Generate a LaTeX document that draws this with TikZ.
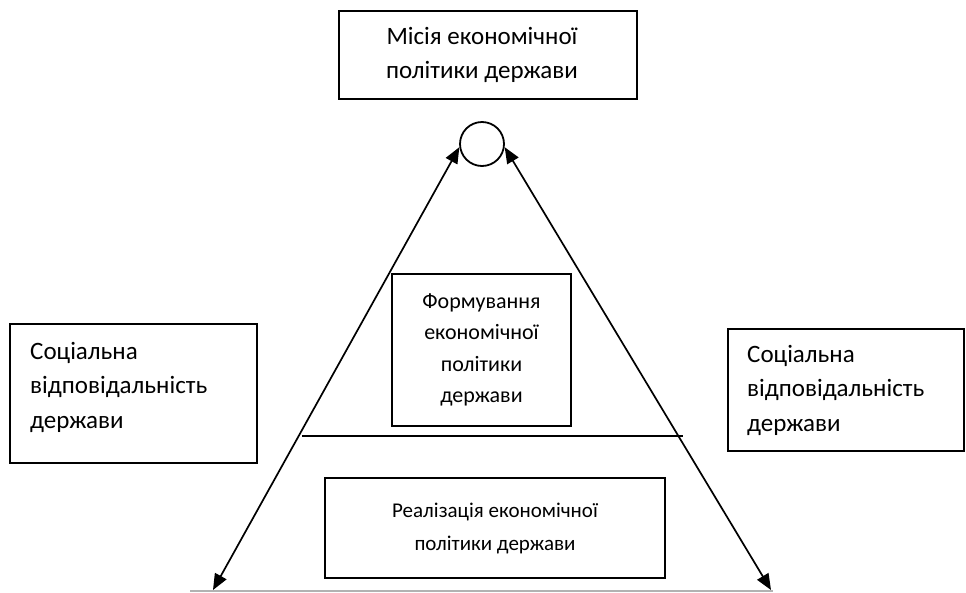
\documentclass[tikz,border=0pt]{standalone}
\usepackage{fontspec}
\setmainfont{Carlito}
\usetikzlibrary{arrows.meta}
\tikzset{
  boxs/.style={draw=black, line width=1.8pt, inner sep=0pt, align=center},
  txt/.style={inner sep=0pt, align=left},
  ctxt/.style={inner sep=0pt, align=center},
  big/.style={font=\fontsize{25}{34.5}\selectfont},
  mid/.style={font=\fontsize{22}{31.5}\selectfont},
  small/.style={font=\fontsize{21}{33}\selectfont},
  twoway/.style={line width=1.7pt, {Triangle[length=16pt,width=13pt]}-{Triangle[length=16pt,width=13pt]}},
  plainline/.style={line width=1.7pt}
}
\begin{document}
\begin{tikzpicture}[x=1pt,y=-1pt]
\useasboundingbox[fill=white] (0,0) rectangle (966,592);
% top mission box
\node[boxs, minimum width=298pt, minimum height=88pt] (mis) at (488,55) {};
\node[ctxt, big] (mistxt) at (482,55) {Місія економічної\\політики держави};
% circle
\node[draw=black, line width=1.8pt, circle, minimum size=44pt, inner sep=0pt] (c) at (482,144) {};
% side boxes
\node[boxs, minimum width=247pt, minimum height=139pt] (lbox) at (133.5,393.5) {};
\node[txt, big, anchor=west] (ltxt) at (30,387) {Соціальна\\відповідальність\\держави};
\node[boxs, minimum width=236pt, minimum height=122pt] (rbox) at (846,390) {};
\node[txt, big, anchor=west] (rtxt) at (747,390) {Соціальна\\відповідальність\\держави};
% middle box
\node[boxs, mid, minimum width=179pt, minimum height=152pt] (form) at (481.5,350) {Формування\\економічної\\політики\\держави};
% bottom box
\node[boxs, small, minimum width=340pt, minimum height=100pt] (real) at (495,528) {Реалізація економічної\\політики держави};
% coordinates
\coordinate (bl) at (213,590);
\coordinate (br) at (771,590);
\coordinate (hl) at (302,436);
\coordinate (hr) at (683,436);
\coordinate (gl) at (190,591);
\coordinate (gr) at (773,591);
% base line (grey)
\draw[line width=1.5pt, gray!60] (gl) -- (gr);
% divider
\draw[plainline] (hl) -- (hr);
% sides of the triangle
\draw[twoway] (bl) -- (c.188);
\draw[twoway] (br) -- (c.352);
\end{tikzpicture}
\end{document}
